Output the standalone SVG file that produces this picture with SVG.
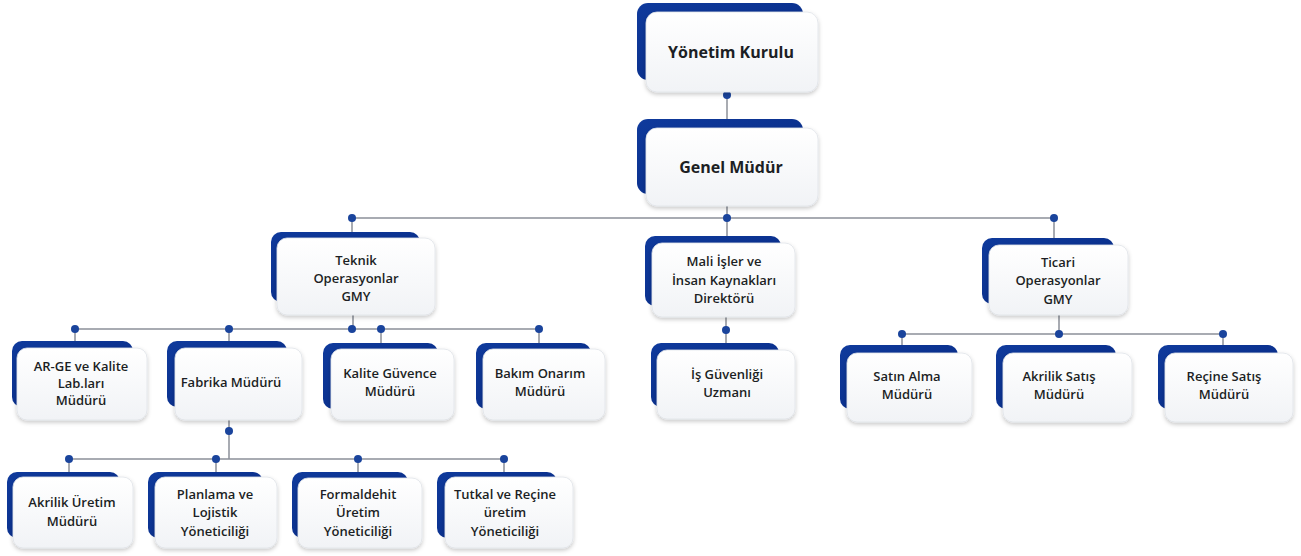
<svg xmlns="http://www.w3.org/2000/svg" width="1301" height="556" viewBox="0 0 1301 556">
<defs>
<linearGradient id="gBack" x1="0" y1="0" x2="1" y2="1">
<stop offset="0" stop-color="#0f3a9c"/>
<stop offset="0.5" stop-color="#0b3290"/>
<stop offset="1" stop-color="#0a2a7a"/>
</linearGradient>
<linearGradient id="gFront" x1="0" y1="0" x2="0" y2="1">
<stop offset="0" stop-color="#ffffff"/>
<stop offset="1" stop-color="#f1f3f6"/>
</linearGradient>
<filter id="sh" x="-20%" y="-20%" width="140%" height="150%">
<feDropShadow dx="0" dy="2" stdDeviation="2.2" flood-color="#000" flood-opacity="0.22"/>
</filter>
</defs>
<style>
.back{fill:url(#gBack)}
.front{fill:url(#gFront);stroke:#dfe3e8;stroke-width:0.8;filter:url(#sh)}
.t{font-family:"Open Sans","Noto Sans","Liberation Sans",sans-serif;font-weight:600;font-size:13px;fill:#1c1f24;text-anchor:middle}
.tb{font-family:"Open Sans","Noto Sans","Liberation Sans",sans-serif;font-weight:700;font-size:16px;fill:#1c1f24;text-anchor:middle}
.ln{stroke:#8c9099;stroke-width:1.5;fill:none}
.dot{fill:#1a449c}
</style>
<rect width="1301" height="556" fill="#ffffff"/>

<g id="connectors">
<path class="ln" d="M727 92V128"/>
<path class="ln" d="M727 206V218M352 218H1054M352 218V238M727 218V243M1054 218V245"/>
<path class="ln" d="M353 315V329M75 329H539M75 329V348M229 329V348M381 329V349M539 329V349"/>
<path class="ln" d="M726 317V350"/>
<path class="ln" d="M1059 315V334M902 334H1223M902 334V353M1223 334V353"/>
<path class="ln" d="M229 420V459M69 459H504M69 459V477M216 459V477M358 459V478M504 459V477"/>
<circle class="dot" cx="727" cy="95" r="4"/>
<circle class="dot" cx="352" cy="218" r="4"/>
<circle class="dot" cx="727" cy="218" r="4"/>
<circle class="dot" cx="1054" cy="218" r="4"/>
<circle class="dot" cx="75" cy="329" r="4"/>
<circle class="dot" cx="229" cy="329" r="4"/>
<circle class="dot" cx="352" cy="329" r="4"/>
<circle class="dot" cx="381" cy="329" r="4"/>
<circle class="dot" cx="539" cy="329" r="4"/>
<circle class="dot" cx="726" cy="330" r="4"/>
<circle class="dot" cx="902" cy="334" r="4"/>
<circle class="dot" cx="1059" cy="334" r="4"/>
<circle class="dot" cx="1223" cy="334" r="4"/>
<circle class="dot" cx="229" cy="431" r="4"/>
<circle class="dot" cx="69" cy="459" r="4"/>
<circle class="dot" cx="216" cy="459" r="4"/>
<circle class="dot" cx="358" cy="459" r="4"/>
<circle class="dot" cx="504" cy="459" r="4"/>
</g>

<g id="yonetim-kurulu">
<rect class="back" x="637" y="3" width="166" height="77" rx="11"/>
<rect class="front" x="646" y="12" width="172" height="80" rx="11"/>
<text class="tb" x="731" y="58">Yönetim Kurulu</text>
</g>

<g id="genel-mudur">
<rect class="back" x="637" y="119" width="166" height="75" rx="11"/>
<rect class="front" x="646" y="128" width="172" height="78" rx="11"/>
<text class="tb" x="731" y="173">Genel Müdür</text>
</g>

<g id="teknik-operasyonlar">
<rect class="back" x="271" y="232" width="149" height="70" rx="10"/>
<rect class="front" x="277" y="238" width="158" height="77" rx="10"/>
<text class="t" x="356" y="265">Teknik</text>
<text class="t" x="356" y="283">Operasyonlar</text>
<text class="t" x="356" y="301">GMY</text>
</g>

<g id="mali-isler">
<rect class="back" x="645" y="236" width="136" height="70" rx="10"/>
<rect class="front" x="652" y="243" width="143" height="74" rx="10"/>
<text class="t" x="724" y="266">Mali İşler ve</text>
<text class="t" x="724" y="285">İnsan Kaynakları</text>
<text class="t" x="724" y="303">Direktörü</text>
</g>

<g id="ticari-operasyonlar">
<rect class="back" x="982" y="238" width="132" height="66" rx="10"/>
<rect class="front" x="989" y="245" width="139" height="70" rx="10"/>
<text class="t" x="1058" y="267">Ticari</text>
<text class="t" x="1058" y="285">Operasyonlar</text>
<text class="t" x="1058" y="304">GMY</text>
</g>

<g id="arge">
<rect class="back" x="12" y="341" width="121" height="66" rx="10"/>
<rect class="front" x="17" y="348" width="130" height="72" rx="10"/>
<text class="t" x="81" y="371">AR-GE ve Kalite</text>
<text class="t" x="81" y="388">Lab.ları</text>
<text class="t" x="81" y="405">Müdürü</text>
</g>

<g id="fabrika">
<rect class="back" x="167" y="341" width="120" height="66" rx="10"/>
<rect class="front" x="175" y="348" width="127" height="72" rx="10"/>
<text class="t" x="231" y="387">Fabrika Müdürü</text>
</g>

<g id="kalite-guvence">
<rect class="back" x="323" y="343" width="115" height="66" rx="10"/>
<rect class="front" x="331" y="349" width="123" height="71" rx="10"/>
<text class="t" x="390" y="378">Kalite Güvence</text>
<text class="t" x="390" y="396">Müdürü</text>
</g>

<g id="bakim-onarim">
<rect class="back" x="476" y="343" width="115" height="66" rx="10"/>
<rect class="front" x="483" y="349" width="122" height="71" rx="10"/>
<text class="t" x="540" y="378">Bakım Onarım</text>
<text class="t" x="540" y="396">Müdürü</text>
</g>

<g id="is-guvenligi">
<rect class="back" x="651" y="343" width="128" height="64" rx="10"/>
<rect class="front" x="657" y="350" width="138" height="69" rx="10"/>
<text class="t" x="727" y="379">İş Güvenliği</text>
<text class="t" x="727" y="397">Uzmanı</text>
</g>

<g id="satin-alma">
<rect class="back" x="840" y="345" width="118" height="64" rx="10"/>
<rect class="front" x="847" y="353" width="125" height="69" rx="10"/>
<text class="t" x="907" y="381">Satın Alma</text>
<text class="t" x="907" y="399">Müdürü</text>
</g>

<g id="akrilik-satis">
<rect class="back" x="996" y="345" width="120" height="64" rx="10"/>
<rect class="front" x="1003" y="353" width="129" height="69" rx="10"/>
<text class="t" x="1059" y="381">Akrilik Satış</text>
<text class="t" x="1059" y="399">Müdürü</text>
</g>

<g id="recine-satis">
<rect class="back" x="1158" y="345" width="120" height="64" rx="10"/>
<rect class="front" x="1165" y="353" width="128" height="69" rx="10"/>
<text class="t" x="1224" y="381">Reçine Satış</text>
<text class="t" x="1224" y="399">Müdürü</text>
</g>

<g id="akrilik-uretim">
<rect class="back" x="7" y="472" width="113" height="66" rx="10"/>
<rect class="front" x="13" y="477" width="120" height="71" rx="10"/>
<text class="t" x="72" y="507">Akrilik Üretim</text>
<text class="t" x="72" y="526">Müdürü</text>
</g>

<g id="planlama-lojistik">
<rect class="back" x="148" y="472" width="115" height="66" rx="10"/>
<rect class="front" x="155" y="477" width="122" height="71" rx="10"/>
<text class="t" x="215" y="499">Planlama ve</text>
<text class="t" x="215" y="517">Lojistik</text>
<text class="t" x="215" y="536">Yöneticiliği</text>
</g>

<g id="formaldehit">
<rect class="back" x="292" y="472" width="116" height="66" rx="10"/>
<rect class="front" x="298" y="478" width="124" height="70" rx="10"/>
<text class="t" x="358" y="499">Formaldehit</text>
<text class="t" x="358" y="517">Üretim</text>
<text class="t" x="358" y="536">Yöneticiliği</text>
</g>

<g id="tutkal-recine">
<rect class="back" x="437" y="472" width="120" height="66" rx="10"/>
<rect class="front" x="445" y="477" width="128" height="71" rx="10"/>
<text class="t" x="505" y="499">Tutkal ve Reçine</text>
<text class="t" x="505" y="517">üretim</text>
<text class="t" x="505" y="536">Yöneticiliği</text>
</g>
</svg>
